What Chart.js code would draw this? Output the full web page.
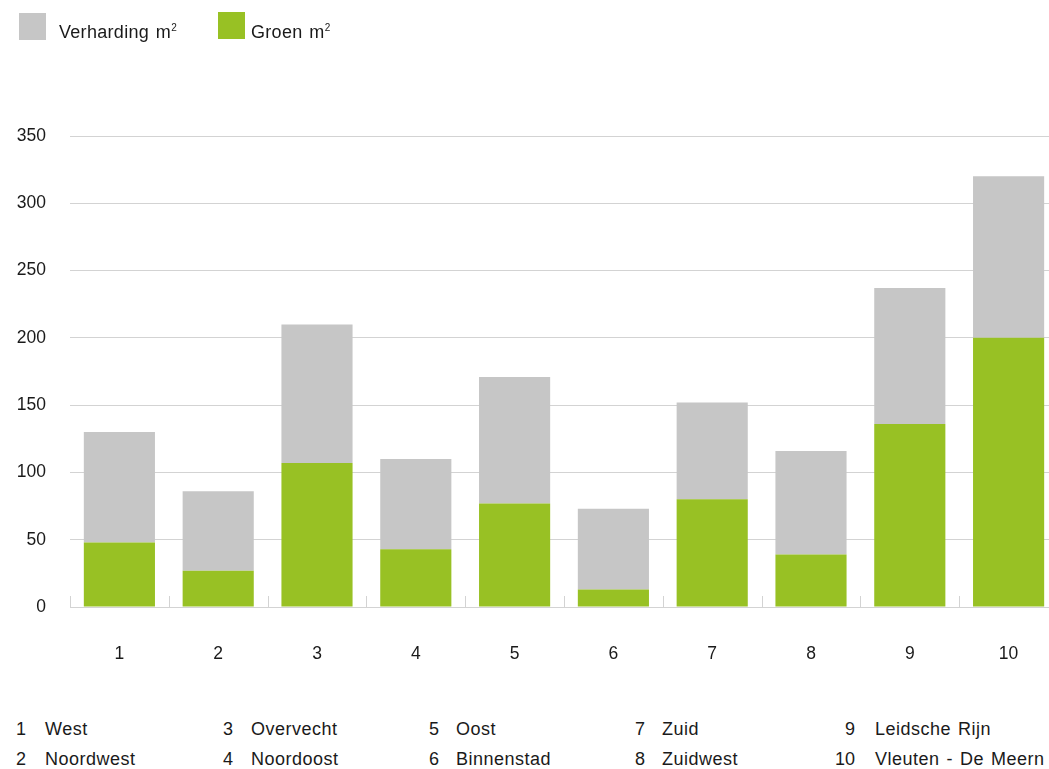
<!DOCTYPE html>
<html>
<head>
<meta charset="utf-8">
<script src="https://cdn.jsdelivr.net/npm/chart.js@4/dist/chart.umd.min.js"></script>
<style>
  body { margin: 0; background: #fff; font-family: "Liberation Sans", Arial, sans-serif; color: #1a1a1a; }
  #wrap { position: absolute; left: 0; top: 0; width: 1049px; height: 690px; overflow: hidden; }
  #inner { position: relative; width: 1075px; height: 680px; }
  .lg-box { position: absolute; width: 27px; height: 27px; }
  .lg-txt { position: absolute; font-size: 18px; line-height: 20px; letter-spacing: 0.3px; word-spacing: 1.5px; }
  .lg-txt sup { font-size: 10px; vertical-align: 7px; line-height: 0; }
  .k-num { position: absolute; font-size: 18px; line-height: 20px; text-align: right; width: 40px; }
  .k-txt { position: absolute; font-size: 18px; line-height: 20px; white-space: nowrap; letter-spacing: 0.5px; word-spacing: 1.5px; }
</style>
</head>
<body>
<div id="wrap"><div id="inner"><canvas id="chart"></canvas></div></div>
<div id="legend"></div>
<div id="key"></div>
<script>
const categories = ['1', '2', '3', '4', '5', '6', '7', '8', '9', '10'];
const districts = ['West', 'Noordwest', 'Overvecht', 'Noordoost', 'Oost', 'Binnenstad', 'Zuid', 'Zuidwest', 'Leidsche Rijn', 'Vleuten - De Meern'];
const groen = [48, 27, 107, 43, 77, 13, 80, 39, 136, 200];
const verharding = [82, 59, 103, 67, 94, 60, 72, 77, 101, 120];
const yTicks = [0, 50, 100, 150, 200, 250, 300, 350];

const grey = '#c6c6c6';
const green = '#98c124';
const lineColor = '#d3d3d3';

// legend on top (html)
const legend = document.getElementById('legend');
[['Verharding m', grey, 19, 13, 59], ['Groen m', green, 218, 12, 251]].forEach(([label, col, bx, by, tx]) => {
    const box = document.createElement('div');
    box.className = 'lg-box';
    box.style.left = bx + 'px';
    box.style.top = by + 'px';
    box.style.background = col;
    legend.appendChild(box);
    const txt = document.createElement('div');
    txt.className = 'lg-txt';
    txt.style.left = tx + 'px';
    txt.style.top = '22px';
    txt.innerHTML = label + '<sup>2</sup>';
    legend.appendChild(txt);
});

// district key at the bottom
const key = document.getElementById('key');
const numRight = [26, 233, 439, 645, 855];
const txtLeft = [45, 251, 456, 662, 875];
districts.forEach((name, i) => {
    const col = Math.floor(i / 2);
    const row = i % 2;
    const top = 719 + row * 30;
    const n = document.createElement('div');
    n.className = 'k-num';
    n.style.left = (numRight[col] - 40) + 'px';
    n.style.top = top + 'px';
    n.textContent = categories[i];
    key.appendChild(n);
    const t = document.createElement('div');
    t.className = 'k-txt';
    t.style.left = txtLeft[col] + 'px';
    t.style.top = top + 'px';
    t.textContent = name;
    key.appendChild(t);
});

// small tick marks at the category boundaries, pointing up from the axis
const boundaryTicks = {
    id: 'boundaryTicks',
    afterDatasetsDraw(chart) {
        const x = chart.scales.x;
        const bottom = chart.chartArea.bottom;
        const ctx = chart.ctx;
        ctx.save();
        ctx.strokeStyle = lineColor;
        ctx.lineWidth = 1;
        for (let i = 0; i <= categories.length; i++) {
            const px = Math.round(x.getPixelForValue(i - 0.5)) + 0.5;
            ctx.beginPath();
            ctx.moveTo(px, bottom - 11);
            ctx.lineTo(px, bottom);
            ctx.stroke();
        }
        ctx.restore();
    }
};

Chart.defaults.font.family = '"Liberation Sans", Arial, sans-serif';
Chart.defaults.color = '#1a1a1a';

new Chart(document.getElementById('chart').getContext('2d'), {
    type: 'bar',
    data: {
        labels: categories,
        datasets: [
            { label: 'Groen m²', data: groen, backgroundColor: green },
            { label: 'Verharding m²', data: verharding, backgroundColor: grey }
        ]
    },
    options: {
        responsive: true,
        maintainAspectRatio: false,
        animation: false,
        layout: { padding: { top: 136, right: 17, bottom: 13, left: 0 } },
        datasets: { bar: { barPercentage: 0.72, categoryPercentage: 1 } },
        plugins: { legend: { display: false }, tooltip: { enabled: false } },
        scales: {
            x: {
                stacked: true,
                grid: { display: false },
                border: { display: false },
                ticks: { font: { size: 17.5 }, padding: 29, maxRotation: 0 },
                afterFit: s => { s.height = 60; }
            },
            y: {
                stacked: true,
                min: 0,
                max: 350,
                afterBuildTicks: s => { s.ticks = yTicks.map(v => ({ value: v })); },
                grid: { color: lineColor, drawTicks: false },
                border: { display: false },
                ticks: { font: { size: 17.5 }, padding: 24 },
                afterFit: s => { s.width = 70; }
            }
        }
    },
    plugins: [boundaryTicks]
});
</script>
</body>
</html>
